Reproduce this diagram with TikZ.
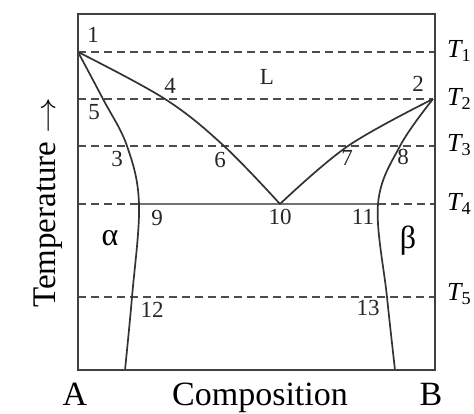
\documentclass[tikz,border=0pt]{standalone}
\usepackage{fontspec}
\setmainfont{Liberation Serif}
\usepackage{graphicx}
\begin{document}
\begin{tikzpicture}[x=1pt,y=-1pt,
  frame/.style={draw=black!75, line width=2.6pt},
  curve/.style={draw=black!80, line width=1.7pt},
  iso/.style={draw=black!70, line width=2pt, dash pattern=on 8pt off 5pt},
  eut/.style={draw=black!55, line width=2.6pt},
  num/.style={font=\fontsize{23}{23}\selectfont, text=black!85, inner sep=0},
  big/.style={font=\fontsize{34}{34}\selectfont, inner sep=0},
  tlab/.style={font=\fontsize{26}{26}\selectfont, inner sep=0, anchor=west}]
\useasboundingbox (0,0) rectangle (474,413);
% points
\coordinate (p1) at (78,52);
\coordinate (p4) at (165,99);
\coordinate (p6) at (224,146);
\coordinate (p10) at (280,204);
\coordinate (p7) at (348,146);
\coordinate (p2) at (433,99);
\coordinate (p5) at (103,99);
\coordinate (p3) at (127,146);
\coordinate (p9) at (139,204);
\coordinate (p12) at (132,297);
\coordinate (aB) at (125,370);
\coordinate (p8) at (400,146);
\coordinate (p11) at (378,204);
\coordinate (p13) at (387,297);
\coordinate (bB) at (395,370);
\coordinate (L2) at (78,99);
\coordinate (L3) at (78,146);
\coordinate (L4) at (78,204);
\coordinate (L5) at (78,297);
\coordinate (R1) at (435,52);
\coordinate (R3) at (435,146);
\coordinate (R4) at (435,204);
\coordinate (R5) at (435,297);
% isotherms
\draw[iso] (p1) -- (R1);
\draw[iso] (L2) -- (p2);
\draw[iso] (L3) -- (R3);
\draw[iso] (L4) -- (p9);
\draw[iso] (p11) -- (R4);
\draw[iso] (L5) -- (R5);
% eutectic
\draw[eut] (p9) -- (p11);
% curves
\draw[curve] plot[smooth, tension=0.6] coordinates {(p1) (p4) (p6) (p10)};
\draw[curve] plot[smooth, tension=0.6] coordinates {(p10) (p7) (p2)};
\draw[curve] plot[smooth, tension=0.6] coordinates {(p1) (p5) (p3) (p9) (p12) (aB)};
\draw[curve] plot[smooth, tension=0.6] coordinates {(p2) (p8) (p11) (p13) (bB)};
% frame
\draw[frame] (78,14) rectangle (435,370);
% point labels
\node[num] (n1) at (93,35) {1};
\node[num] (n4) at (170,86) {4};
\node[num] (nL) at (267,77) {L};
\node[num] (n2) at (418,84) {2};
\node[num] (n5) at (94,112) {5};
\node[num] (n3) at (117,159) {3};
\node[num] (n6) at (220,160) {6};
\node[num] (n7) at (347,158) {7};
\node[num] (n8) at (403,157) {8};
\node[num] (n9) at (157,218) {9};
\node[num] (n10) at (280,217) {10};
\node[num] (n11) at (363,217) {11};
\node[num] (n12) at (152,310) {12};
\node[num] (n13) at (368,308) {13};
\node[big, font=\fontsize{32}{32}\selectfont] (na) at (110,238) {α};
\node[big, font=\fontsize{32}{32}\selectfont] (nb) at (408,241) {β};
% temperature labels
\node[tlab] (t1) at (447,51) {{\itshape T}\textsubscript{1}};
\node[tlab] (t2) at (447,99) {{\itshape T}\textsubscript{2}};
\node[tlab] (t3) at (447,145) {{\itshape T}\textsubscript{3}};
\node[tlab] (t4) at (447,204) {{\itshape T}\textsubscript{4}};
\node[tlab] (t5) at (447,294) {{\itshape T}\textsubscript{5}};
% axes
\node[big, anchor=base] (A) at (75,405) {A};
\node[big, anchor=base] (comp) at (260,405) {Composition};
\node[big, anchor=base] (B) at (431,405) {B};
\node[big, font=\fontsize{33}{33}\selectfont, rotate=90, anchor=base west] (temp) at (55,308)
  {Temperature \scalebox{1.45}[1.1]{$\rightarrow$}};
\end{tikzpicture}
\end{document}
